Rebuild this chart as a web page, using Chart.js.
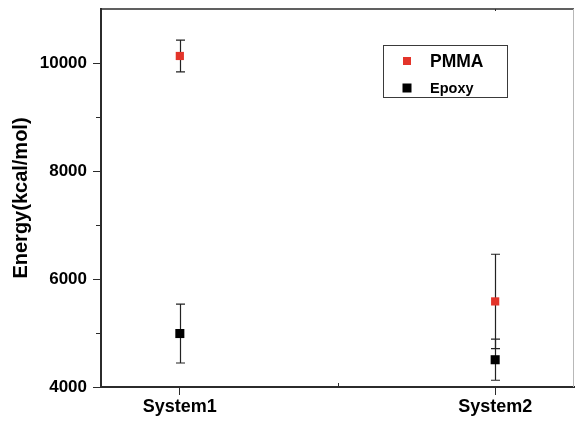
<!DOCTYPE html>
<html>
<head>
<meta charset="utf-8">
<script src="https://cdn.jsdelivr.net/npm/chart.js@4/dist/chart.umd.min.js"></script>
<style>
  html, body { margin: 0; padding: 0; background: #fff; }
  #wrap { width: 575px; height: 422px; }
</style>
</head>
<body>
<div id="wrap"><canvas id="c" width="575" height="422"></canvas></div>
<script>
// Interaction energy per system, mean with error bars
const categories = ['System1', 'System2'];
const seriesNames = ['PMMA', 'Epoxy'];
const pmmaMean = [10130, 5585];
const pmmaErr = [295, 873];
const epoxyMean = [4990, 4505];
const epoxyErr = [546, 380];
const yTickValues = [4000, 6000, 8000, 10000];
const yMinorTickValues = [5000, 7000, 9000];

const FONT = "'Liberation Sans', Arial, Helvetica, sans-serif";
const RED = '#e3342a';
const AXIS = '#2b2b2b';

function toPoints(means) {
  return means.map((v, i) => ({ x: i + 1, y: v }));
}

// error bars drawn underneath the markers
const errorBars = {
  id: 'errorBars',
  beforeDatasetsDraw(chart) {
    const { ctx, scales: { x, y } } = chart;
    ctx.save();
    ctx.strokeStyle = '#222';
    ctx.lineWidth = 1.2;
    chart.data.datasets.forEach(ds => {
      ds.data.forEach((p, i) => {
        const e = ds.errors[i];
        const px = Math.round(x.getPixelForValue(p.x)) + 0.5;
        const yt = y.getPixelForValue(p.y + e);
        const yb = y.getPixelForValue(p.y - e);
        ctx.beginPath();
        ctx.moveTo(px, yt); ctx.lineTo(px, yb);
        ctx.moveTo(px - 4.5, yt); ctx.lineTo(px + 4.5, yt);
        ctx.moveTo(px - 4.5, yb); ctx.lineTo(px + 4.5, yb);
        ctx.stroke();
      });
    });
    ctx.restore();
  }
};

// frame top/right edges, minor ticks and the inset legend
const frameAndLegend = {
  id: 'frameAndLegend',
  afterDraw(chart) {
    const { ctx, chartArea: a, scales: { x, y } } = chart;
    ctx.save();
    // top edge
    ctx.strokeStyle = AXIS;
    ctx.lineWidth = 1.6;
    ctx.beginPath();
    ctx.moveTo(a.left, a.top); ctx.lineTo(a.right, a.top);
    ctx.stroke();
    // right edge
    ctx.strokeStyle = '#b8b8b8';
    ctx.lineWidth = 1;
    ctx.beginPath();
    ctx.moveTo(a.right - 0.5, a.top); ctx.lineTo(a.right - 0.5, a.bottom);
    ctx.stroke();
    // minor ticks
    ctx.strokeStyle = AXIS;
    ctx.lineWidth = 1;
    yMinorTickValues.forEach(v => {
      const py = Math.round(y.getPixelForValue(v)) + 0.5;
      ctx.beginPath();
      ctx.moveTo(a.left - 5, py); ctx.lineTo(a.left, py);
      ctx.stroke();
    });
    const mx = Math.round(x.getPixelForValue(1.5)) + 0.5;
    ctx.beginPath();
    ctx.moveTo(mx, a.bottom); ctx.lineTo(mx, a.bottom - 4);
    ctx.stroke();
    // mirrored tick on the top edge
    const tx = Math.round(x.getPixelForValue(2)) + 0.5;
    ctx.beginPath();
    ctx.moveTo(tx, a.top); ctx.lineTo(tx, a.top + 2);
    ctx.stroke();

    // legend box
    const bx = a.left + 282, by = a.top + 36, bw = 124, bh = 52;
    ctx.strokeStyle = '#3a3a3a';
    ctx.lineWidth = 1;
    ctx.strokeRect(bx + 0.5, by + 0.5, bw, bh);
    const items = chart.data.datasets;
    const rows = [
      { cy: by + 16, size: 8, font: 'bold 17.5px ' + FONT },
      { cy: by + 43, size: 9, font: 'bold 14.5px ' + FONT }
    ];
    items.forEach((ds, i) => {
      const r = rows[i];
      ctx.fillStyle = ds.backgroundColor;
      ctx.fillRect(bx + 24 - r.size / 2, r.cy - r.size / 2, r.size, r.size);
      ctx.fillStyle = '#000';
      ctx.font = r.font;
      ctx.textAlign = 'left';
      ctx.textBaseline = 'middle';
      ctx.fillText(ds.label, bx + 47, r.cy + 1);
    });
    ctx.restore();
  }
};

new Chart(document.getElementById('c'), {
  type: 'scatter',
  data: {
    datasets: [
      {
        label: seriesNames[0],
        data: toPoints(pmmaMean),
        errors: pmmaErr,
        backgroundColor: RED,
        borderColor: RED,
        pointStyle: 'rect',
        pointRadius: 5.8,
        borderWidth: 0
      },
      {
        label: seriesNames[1],
        data: toPoints(epoxyMean),
        errors: epoxyErr,
        backgroundColor: '#000',
        borderColor: '#000',
        pointStyle: 'rect',
        pointRadius: 6.4,
        borderWidth: 0
      }
    ]
  },
  options: {
    responsive: false,
    animation: false,
    devicePixelRatio: 1,
    layout: { autoPadding: false, padding: { top: 9, right: 1, left: 0, bottom: 0 } },
    plugins: { legend: { display: false }, tooltip: { enabled: false } },
    scales: {
      x: {
        type: 'linear',
        min: 0.75,
        max: 2.25,
        afterBuildTicks: s => { s.ticks = categories.map((c, i) => ({ value: i + 1 })); },
        afterFit: s => { s.height = 35; s.paddingLeft = 0; s.paddingRight = 0; },
        grid: { drawOnChartArea: false, drawTicks: true, tickLength: 8, color: AXIS, tickWidth: 1 },
        border: { display: true, color: AXIS, width: 2 },
        ticks: {
          autoSkip: false,
          maxRotation: 0,
          padding: 1,
          color: '#000',
          font: { family: FONT, size: 18, weight: 'bold' },
          callback: v => categories[Math.round(v) - 1] || ''
        }
      },
      y: {
        min: 4000,
        max: 11000,
        afterBuildTicks: s => { s.ticks = yTickValues.map(v => ({ value: v })); },
        afterFit: s => { s.width = 101; s.paddingTop = 0; s.paddingBottom = 0; },
        grid: { drawOnChartArea: false, drawTicks: true, tickLength: 8, color: AXIS, tickWidth: 1 },
        border: { display: true, color: AXIS, width: 2 },
        title: {
          display: true,
          text: 'Energy(kcal/mol)',
          color: '#000',
          font: { family: FONT, size: 20, weight: 'bold' },
          padding: { top: 9, bottom: 0 }
        },
        ticks: {
          padding: 6,
          color: '#000',
          font: { family: FONT, size: 17, weight: 'bold' },
          callback: v => String(v)
        }
      }
    }
  },
  plugins: [errorBars, frameAndLegend]
});
</script>
</body>
</html>
